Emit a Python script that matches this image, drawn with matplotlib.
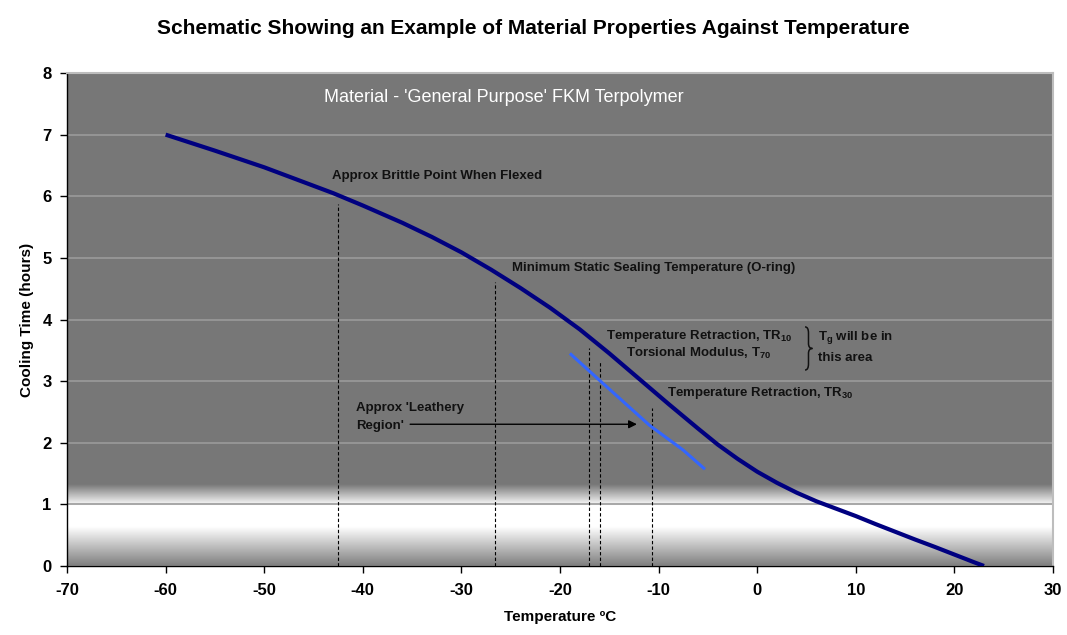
import matplotlib
matplotlib.use('Agg')
import matplotlib.pyplot as plt
import numpy as np
from matplotlib.colors import LinearSegmentedColormap
from matplotlib.path import Path
from matplotlib.patches import PathPatch

plt.rcParams['font.family'] = ['Liberation Sans', 'DejaVu Sans']
plt.rcParams['axes.unicode_minus'] = False
plt.rcParams['mathtext.fontset'] = 'custom'
plt.rcParams['mathtext.rm'] = 'Liberation Sans:bold'
plt.rcParams['mathtext.bf'] = 'Liberation Sans:bold'
plt.rcParams['mathtext.it'] = 'Liberation Sans:bold'

# main cooling curve (navy)
temp_main = [-60, -55, -50, -45, -43, -40, -36, -33, -30, -27, -24, -21,
             -18, -15, -12, -9, -6, -4, -2, 0, 2, 4, 6, 8, 10,
             12, 14, 16, 18, 20, 22, 23]
time_main = [7.0, 6.74, 6.47, 6.17, 6.05, 5.85, 5.57, 5.34, 5.09, 4.81, 4.51, 4.19,
             3.84, 3.45, 3.04, 2.63, 2.23, 1.97, 1.74, 1.53, 1.35, 1.19, 1.05, 0.93, 0.81,
             0.68, 0.555, 0.43, 0.31, 0.185, 0.06, 0.0]

# leathery region line (light blue)
temp_leather = [-19, -15.9, -13.4, -10.9, -7.5, -5.3]
time_leather = [3.45, 3.0, 2.64, 2.28, 1.88, 1.57]

# vertical dashed markers
marker_temp = [-42.5, -26.6, -17.1, -15.9, -10.7]
marker_top = [5.88, 4.61, 3.53, 3.32, 2.57]

x_ticks = list(range(-70, 31, 10))
y_ticks = list(range(0, 9))

fig = plt.figure(figsize=(10.67, 6.35), dpi=100)
ax = fig.add_axes([0.0628, 0.1087, 0.9241, 0.7763])
ax.set_facecolor('#777777')

# white band near the bottom
cmap = LinearSegmentedColormap.from_list('band', [
    (0.0, '#7e7e7e'), (0.48, '#ffffff'), (0.74, '#ffffff'), (1.0, '#777777')])
grad = np.linspace(0, 1, 256).reshape(-1, 1)
ax.imshow(grad, extent=[-70, 30, 0, 1.32], origin='lower', cmap=cmap,
          aspect='auto', zorder=0, interpolation='bilinear')

ax.set_xlim(-70, 30)
ax.set_ylim(0, 8)
ax.set_xticks(x_ticks)
ax.set_yticks(y_ticks)
ax.grid(True, axis='y', color='#9a9a9a', linewidth=1.2, zorder=1)
ax.set_axisbelow(True)

for s in ['top', 'right']:
    ax.spines[s].set_color('#bdbdbd')
    ax.spines[s].set_linewidth(1.5)
for s in ['left', 'bottom']:
    ax.spines[s].set_color('black')
    ax.spines[s].set_linewidth(1.0)

ax.tick_params(axis='both', direction='out', length=5, width=1, labelsize=12)
ax.tick_params(axis='x', pad=7)
ax.tick_params(axis='y', pad=6)
for lab in ax.get_xticklabels() + ax.get_yticklabels():
    lab.set_fontweight('bold')

ax.vlines(marker_temp, 0, marker_top, colors='black', linestyles=(0, (3, 2)),
          linewidth=0.8, zorder=2)

ax.plot(temp_main, time_main, color='#000080', linewidth=3.0, zorder=4,
        solid_capstyle='butt', solid_joinstyle='round')
ax.plot(temp_leather, time_leather, color='#3366ff', linewidth=2.2, zorder=3,
        solid_capstyle='butt', solid_joinstyle='round')

fs = 9.5
ax.text(-25.7, 7.61, "Material - 'General Purpose' FKM Terpolymer", color='white',
        fontsize=13, ha='center', va='center')
ax.text(-43.1, 6.33, 'Approx Brittle Point When Flexed', fontsize=fs,
        fontweight='bold', ha='left', va='center', color='#111111')
ax.text(-24.9, 4.84, 'Minimum Static Sealing Temperature (O-ring)', fontsize=fs,
        fontweight='bold', ha='left', va='center', color='#111111')
ax.text(-5.9, 3.60, 'Temperature Retraction, TR$_{10}$\nTorsional Modulus, T$_{70}$',
        fontsize=fs, fontweight='bold', ha='center', va='center',
        multialignment='center', color='#111111', linespacing=1.15)

# curly brace grouping the two lines
x0, xm, xt = 4.85, 5.2, 5.6
top, mid, bot = 3.88, 3.53, 3.18
brace = Path(
    [(x0, top), (xm, top), (xm, top - 0.1), (xm, mid + 0.08),
     (xm, mid), (xt, mid), (xm, mid), (xm, mid - 0.08),
     (xm, bot + 0.1), (xm, bot), (x0, bot)],
    [Path.MOVETO, Path.CURVE3, Path.CURVE3, Path.LINETO,
     Path.CURVE3, Path.CURVE3, Path.CURVE3, Path.CURVE3,
     Path.LINETO, Path.CURVE3, Path.CURVE3])
ax.add_patch(PathPatch(brace, facecolor='none', edgecolor='#111111', lw=1.1, zorder=5))

ax.text(6.2, 3.56, 'T$_{g}$ will be in\nthis area', fontsize=fs, fontweight='bold',
        ha='left', va='center', color='#111111', linespacing=1.6)
ax.text(-9.1, 2.80, 'Temperature Retraction, TR$_{30}$', fontsize=fs,
        fontweight='bold', ha='left', va='center', color='#111111')
ax.text(-40.7, 2.42, "Approx 'Leathery\nRegion'", fontsize=fs, fontweight='bold',
        ha='left', va='center', color='#111111', linespacing=1.6)
ax.annotate('', xy=(-12.2, 2.3), xytext=(-35.2, 2.3),
            arrowprops=dict(arrowstyle='-|>', color='black', lw=1.0,
                            mutation_scale=12, shrinkA=0, shrinkB=0))

ax.set_xlabel('Temperature ºC', fontsize=11, fontweight='bold', labelpad=9)
ax.set_ylabel('Cooling Time (hours)', fontsize=11, fontweight='bold', labelpad=6)
fig.text(0.5, 1 - 28 / 635, 'Schematic Showing an Example of Material Properties Against Temperature',
         fontsize=15, fontweight='bold', ha='center', va='center')

fig.savefig('out.png', dpi=100)
